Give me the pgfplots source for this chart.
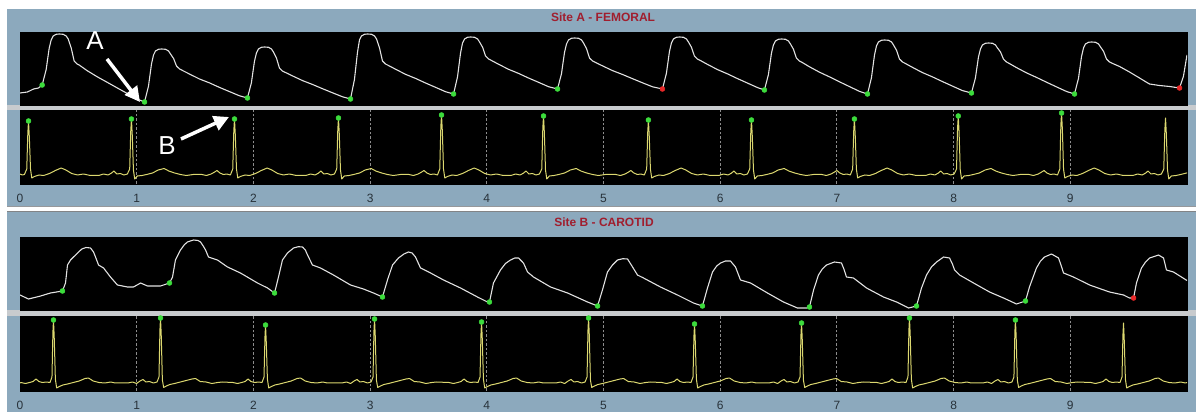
\documentclass[border=0pt]{standalone}
\usepackage{fontspec}
\setmainfont{Liberation Sans}
\usepackage{pgfplots}
\pgfplotsset{compat=1.18}
\usetikzlibrary{arrows.meta}
\definecolor{panelbg}{HTML}{8CA9BD}
\definecolor{sepbar}{HTML}{C8CBCE}
\definecolor{titlered}{HTML}{A01E2E}
\definecolor{ticktext}{HTML}{28323A}
\definecolor{pressline}{HTML}{E2E2E2}
\definecolor{ecgline}{HTML}{DCD870}
\definecolor{dotgreen}{HTML}{3CDC3C}
\definecolor{dotred}{HTML}{E82828}
\definecolor{gridgrey}{HTML}{8C8C8C}
\pgfplotsset{
  panel/.style={scale only axis, width=1167pt, xmin=0, xmax=10000, anchor=south west,
    scaled x ticks=false, scaled y ticks=false,
    axis background/.style={fill=black}, axis line style={draw=black, line width=0.6pt},
    ytick=\empty, ymin=0, clip=true},
  press/.style={panel, xtick=\empty, ymax=73, height=73pt},
  ecg/.style={panel, xtick={0,1000,2000,3000,4000,5000,6000,7000,8000,9000},
    xticklabels={0,1,2,3,4,5,6,7,8,9}, major tick length=0pt,
    xticklabel style={anchor=center, yshift=-14pt, text=ticktext, font=\fontsize{12}{12}\selectfont},
    extra x ticks={1000,2000,3000,4000,5000,6000,7000,8000,9000}, extra x tick labels={},
    extra x tick style={grid=major},
    major grid style={draw=gridgrey, dash pattern=on 2.5pt off 2pt, line width=0.9pt}},
  pline/.style={draw=pressline, line width=1.1pt, mark=none, line join=round},
  eline/.style={draw=ecgline, line width=1.0pt, mark=none, line join=round},
  gdot/.style={only marks, mark=*, mark size=2.5pt, mark options={draw=dotgreen, fill=dotgreen}},
  rdot/.style={only marks, mark=*, mark size=2.5pt, mark options={draw=dotred, fill=dotred}},
}
\begin{document}
\begin{tikzpicture}
\useasboundingbox (0pt,0pt) rectangle (1196pt,412pt);
\fill[white] (0pt,0pt) rectangle (1196pt,412pt);
\fill[panelbg] (7pt,206pt) rectangle (1196pt,403pt);
\fill[panelbg] (7pt,0pt) rectangle (1196pt,200pt);
\fill[black!25!sepbar] (7pt,205pt) rectangle (1196pt,206pt);
\fill[black!35!sepbar] (7pt,200pt) rectangle (1196pt,201pt);
\fill[sepbar] (7pt,302pt) rectangle (1196pt,307pt);
\fill[sepbar] (7pt,96pt) rectangle (1196pt,102pt);

\node[text=titlered, font=\bfseries\fontsize{12}{12}\selectfont] at (603pt,395pt) {Site A - FEMORAL};
\node[text=titlered, font=\bfseries\fontsize{12}{12}\selectfont] at (604pt,190pt) {Site B - CAROTID};

% ---------- Site A pressure ----------
\begin{axis}[press, at={(20pt,307pt)}]
\addplot[pline] coordinates {
(0,12) (64,13) (116,16) (159,17)
(190,20) (224,35.3) (250,56.7) (267,65) (284,69) (310,70.7) (336,71) (370,70.7) (396,69) (413,66) (439,57) (464,44) (490,41) (507,40) (576,34.3) (662,28.2) (747,22.7) (833,17.1) (919,11.5) (1004,6)
(1067,3) (1101,18.9) (1127,41.2) (1144,50) (1161,54) (1187,55.7) (1213,56) (1247,55.7) (1273,54) (1290,51) (1316,46.5) (1341,39) (1367,36) (1384,35) (1452,31) (1538,26) (1624,22.1) (1709,17.6) (1795,13.4) (1881,9.2)
(1949,7) (1983,22.3) (2009,43.7) (2026,52) (2043,56) (2069,57.7) (2095,58) (2129,57.7) (2155,56) (2172,53) (2198,46.8) (2223,37) (2249,34) (2266,33) (2335,29.1) (2421,24.4) (2507,20.5) (2592,16.3) (2678,12.2) (2764,8.2)
(2832,6) (2866,25.5) (2892,52.8) (2909,65) (2926,69) (2952,70.7) (2978,71) (3012,70.7) (3038,69) (3055,66) (3081,57) (3106,44) (3132,41) (3149,40) (3218,35.8) (3303,30.7) (3389,26.6) (3475,22) (3560,17.7) (3646,13.3)
(3715,11) (3749,28.1) (3775,52) (3792,62) (3809,66) (3835,67.7) (3861,68) (3895,67.7) (3921,66) (3938,63) (3964,57.7) (3989,49) (4015,46) (4032,45) (4100,40.8) (4186,35.7) (4272,31.6) (4357,27) (4443,22.7) (4529,18.3)
(4606,16) (4640,31.3) (4666,52.7) (4683,61) (4700,65) (4726,66.7) (4752,67) (4786,66.7) (4812,65) (4829,62) (4855,56.2) (4880,47) (4906,44) (4923,43) (4992,39.1) (5077,34.4) (5163,30.5) (5249,26.3) (5334,22.2) (5420,18.2)
(5505,16) (5539,31.6) (5565,53.4) (5582,62) (5599,66) (5625,67.7) (5651,68) (5685,67.7) (5711,66) (5728,63) (5754,57.7) (5779,49) (5805,46) (5822,45) (5891,40.6) (5977,35.4) (6063,31.1) (6148,26.4) (6234,21.9) (6320,17.4)
(6379,15) (6413,30.3) (6439,51.7) (6456,60) (6473,64) (6499,65.7) (6525,66) (6559,65.7) (6585,64) (6602,61) (6628,55.7) (6653,47) (6679,44) (6696,43) (6765,38.2) (6851,32.8) (6937,28.1) (7022,23.2) (7108,18.4) (7194,13.6)
(7262,11) (7296,27.2) (7322,49.9) (7339,59) (7356,63) (7382,64.7) (7408,65) (7442,64.7) (7468,63) (7485,60) (7511,54.7) (7536,46) (7562,43) (7579,42) (7648,37.6) (7733,32.4) (7819,28.1) (7905,23.4) (7990,18.9) (8076,14.4)
(8153,12) (8187,27) (8213,48) (8230,56) (8247,60) (8273,61.7) (8299,62) (8333,61.7) (8359,60) (8376,57) (8402,53) (8427,46) (8453,43) (8470,42) (8539,37.4) (8625,32.1) (8710,27.6) (8796,22.8) (8882,18.1) (8968,13.5)
(9036,11) (9070,26.6) (9096,48.4) (9113,57) (9130,61) (9156,62.7) (9182,63) (9216,62.7) (9242,61) (9259,58) (9285,53.6) (9310,46) (9336,43) (9353,42) (9422,38.5) (9507,33) (9593,27) (9678,21) (9764,19.5) (9850,18.5)
(9936,17) (9970,29) (10000,50)
};
\addplot[gdot] coordinates {(190,20) (1067,3) (1949,7) (2832,6) (3715,11) (4606,16) (6379,15) (7262,11) (8153,12) (9036,11)};
\addplot[rdot] coordinates {(5505,16) (9936,17)};
\end{axis}

% ---------- Site A ECG ----------
\begin{axis}[ecg, at={(20pt,228pt)}, ymax=74, height=74pt]
\addplot[eline] coordinates {
(0,10) (20,9) (38,9.5) (58,15) (67,51) (73,63) (80,47) (90,15) (101,6) (123,7.5) (163,9) (203,8.5) (253,10.5) (303,13.5) (353,16) (393,14) (443,10.5) (493,9) (543,10) (603,8.5)
(675,8.5) (715,10) (755,9) (785,11) (805,13) (830,10) (860,10.5) (890,9) (920,10) (940,15) (949,53) (955,65) (962,49) (972,14) (983,5) (1005,8) (1045,8.5) (1085,9.5) (1135,11) (1185,14) (1235,15.5) (1275,13) (1325,11) (1375,9.5) (1425,8.5) (1485,9.5)
(1558,9.5) (1598,8.5) (1638,10) (1668,12) (1688,13.5) (1713,11) (1743,9.5) (1773,10) (1803,9) (1823,15) (1832,53) (1838,65) (1845,49) (1855,15) (1866,6) (1888,7.5) (1928,9) (1968,8.5) (2018,10.5) (2068,13.5) (2118,16) (2158,14) (2208,10.5) (2258,9) (2308,10) (2368,8.5)
(2449,8.5) (2489,10) (2529,9) (2559,11) (2579,13) (2604,10) (2634,10.5) (2664,9) (2694,10) (2714,15) (2723,54) (2729,66) (2736,50) (2746,14) (2757,5) (2779,8) (2819,8.5) (2859,9.5) (2909,11) (2959,14) (3009,15.5) (3049,13) (3099,11) (3149,9.5) (3199,8.5) (3259,9.5)
(3332,9.5) (3372,8.5) (3412,10) (3442,12) (3462,13.5) (3487,11) (3517,9.5) (3547,10) (3577,9) (3597,15) (3606,57) (3612,69) (3619,53) (3629,15) (3640,6) (3662,7.5) (3702,9) (3742,8.5) (3792,10.5) (3842,13.5) (3892,16) (3932,14) (3982,10.5) (4032,9) (4082,10) (4142,8.5)
(4206,8.5) (4246,10) (4286,9) (4316,11) (4336,13) (4361,10) (4391,10.5) (4421,9) (4451,10) (4471,15) (4480,56) (4486,68) (4493,52) (4503,14) (4514,5) (4536,8) (4576,8.5) (4616,9.5) (4666,11) (4716,14) (4766,15.5) (4806,13) (4856,11) (4906,9.5) (4956,8.5) (5016,9.5)
(5105,9.5) (5145,8.5) (5185,10) (5215,12) (5235,13.5) (5260,11) (5290,9.5) (5320,10) (5350,9) (5370,15) (5379,52) (5385,64) (5392,48) (5402,15) (5413,6) (5435,7.5) (5475,9) (5515,8.5) (5565,10.5) (5615,13.5) (5665,16) (5705,14) (5755,10.5) (5805,9) (5855,10) (5915,8.5)
(5988,8.5) (6028,10) (6068,9) (6098,11) (6118,13) (6143,10) (6173,10.5) (6203,9) (6233,10) (6253,15) (6262,52) (6268,64) (6275,48) (6285,14) (6296,5) (6318,8) (6358,8.5) (6398,9.5) (6448,11) (6498,14) (6548,15.5) (6588,13) (6638,11) (6688,9.5) (6738,8.5) (6798,9.5)
(6870,9.5) (6910,8.5) (6950,10) (6980,12) (7000,13.5) (7025,11) (7055,9.5) (7085,10) (7115,9) (7135,15) (7144,53) (7150,65) (7157,49) (7167,15) (7178,6) (7200,7.5) (7240,9) (7280,8.5) (7330,10.5) (7380,13.5) (7430,16) (7470,14) (7520,10.5) (7570,9) (7620,10) (7680,8.5)
(7760,8.5) (7800,10) (7840,9) (7870,11) (7890,13) (7915,10) (7945,10.5) (7975,9) (8005,10) (8025,15) (8034,56) (8040,68) (8047,52) (8057,14) (8068,5) (8090,8) (8130,8.5) (8170,9.5) (8220,11) (8270,14) (8320,15.5) (8360,13) (8410,11) (8460,9.5) (8510,8.5) (8570,9.5)
(8645,9.5) (8685,8.5) (8725,10) (8755,12) (8775,13.5) (8800,11) (8830,9.5) (8860,10) (8890,9) (8910,15) (8919,59) (8925,71) (8932,55) (8942,15) (8953,6) (8975,7.5) (9015,9) (9055,8.5) (9105,10.5) (9155,13.5) (9205,16) (9245,14) (9295,10.5) (9345,9) (9395,10) (9455,8.5)
(9536,8.5) (9576,10) (9616,9) (9646,11) (9666,13) (9691,10) (9721,10.5) (9751,9) (9781,10) (9801,15) (9810,54) (9816,66) (9823,50) (9833,14) (9844,5) (9866,8) (9906,8.5) (9946,9.5) (9996,11) (10000,11)
};
\addplot[gdot] coordinates {(73,63) (955,65) (1838,65) (2729,66) (3612,69) (4486,68) (5385,64) (6268,64) (7150,65) (8040,68) (8925,71)};
\end{axis}

% ---------- Site B pressure ----------
\begin{axis}[press, at={(20pt,102pt)}]
\addplot[pline] coordinates {
(0,15) (73,11) (176,14) (261,17)
(364,19) (390,27) (407,45) (433,50) (493,57) (530,61) (565,62.5) (604,62) (630,58) (647,53) (673,45) (716,42) (775,33) (835,25) (921,23) (973,23) (1033,27) (1093,24) (1204,24)
(1281,27) (1307,33) (1332,50) (1375,60) (1410,65.5) (1435,68) (1487,70) (1525,69.5) (1547,68) (1570,64) (1590,60) (1615,53) (1692,50) (1778,43) (1889,37) (2035,27) (2121,22)
(2181,17) (2215,33) (2249,50) (2292,57) (2344,62) (2385,63.3) (2421,63) (2445,60) (2464,55) (2506,45) (2575,42) (2686,35) (2832,25) (2943,21) (3029,17)
(3106,13) (3149,30) (3192,45) (3243,52) (3290,56) (3329,58) (3360,57) (3389,53) (3432,42) (3518,37) (3629,30) (3775,22) (3920,13) (4006,8)
(4023,8) (4057,27) (4117,40) (4160,46.5) (4203,50) (4240,52) (4272,52) (4314,47) (4349,38) (4400,33) (4546,23) (4692,17) (4863,8)
(4949,4) (4991,20) (5034,38) (5077,45) (5120,50) (5165,51.3) (5206,51) (5249,43) (5291,35) (5343,32) (5488,23) (5634,15) (5771,7)
(5848,4) (5891,22) (5934,38) (5970,44) (6003,47) (6045,49) (6088,49) (6131,43) (6174,30) (6260,27) (6405,17) (6542,8) (6662,2) (6740,2)
(6765,3) (6800,20) (6842,35) (6875,41) (6911,45) (6979,48) (7039,47) (7060,41) (7082,33) (7142,32) (7254,22) (7399,13) (7511,8) (7614,2)
(7682,4) (7725,22) (7768,35) (7810,43) (7854,48) (7914,53) (7965,52) (7990,46) (8008,40) (8051,35) (8171,27) (8308,18) (8428,12) (8539,6)
(8616,9) (8650,23) (8710,42) (8745,49) (8779,53) (8839,56) (8899,52) (8920,45) (8942,37) (9027,33) (9165,25) (9336,18) (9456,15) (9507,12)
(9542,12) (9567,27) (9610,42) (9645,48) (9679,52) (9756,55) (9799,52) (9824,40) (9884,38) (10000,29.5)
};
\addplot[gdot] coordinates {(364,19) (1281,27) (2181,17) (3106,13) (4023,8) (4949,4) (5848,4) (6765,3) (7682,4) (8616,9)};
\addplot[rdot] coordinates {(9542,12)};
\end{axis}

% ---------- Site B ECG ----------
\begin{axis}[ecg, at={(20pt,21pt)}, ymax=75, height=75pt]
\addplot[eline] coordinates {
(0,8) (7,8.5) (47,7.5) (82,8.5) (112,9.5) (137,12) (162,9.5) (192,8.5) (227,9) (257,8.5) (274,14) (282,59) (287,71) (293,55) (303,12) (314,3) (337,4.5) (367,6) (407,7) (457,8.5) (507,10) (557,12.5) (587,13) (627,10) (677,8.5) (727,8) (777,9) (817,8)
(924,8) (964,9) (999,7.5) (1029,10) (1054,11.5) (1079,9) (1109,9.5) (1144,8) (1174,9) (1191,14) (1199,61) (1204,73) (1210,57) (1220,11) (1231,3.5) (1254,5) (1284,6.5) (1324,7.5) (1374,9) (1424,10.5) (1474,12) (1504,12.5) (1544,9.5) (1594,9) (1644,7.5) (1694,8.5) (1734,9)
(1824,8.5) (1864,7.5) (1899,8.5) (1929,9.5) (1954,12) (1979,9.5) (2009,8.5) (2044,9) (2074,8.5) (2091,14) (2099,54) (2104,66) (2110,50) (2120,12) (2131,3) (2154,4.5) (2184,6) (2224,7) (2274,8.5) (2324,10) (2374,12.5) (2404,13) (2444,10) (2494,8.5) (2544,8) (2594,9) (2634,8)
(2758,8) (2798,9) (2833,7.5) (2863,10) (2888,11.5) (2913,9) (2943,9.5) (2978,8) (3008,9) (3025,14) (3033,60) (3038,72) (3044,56) (3054,11) (3065,3.5) (3088,5) (3118,6.5) (3158,7.5) (3208,9) (3258,10.5) (3308,12) (3338,12.5) (3378,9.5) (3428,9) (3478,7.5) (3528,8.5) (3568,9)
(3675,8.5) (3715,7.5) (3750,8.5) (3780,9.5) (3805,12) (3830,9.5) (3860,8.5) (3895,9) (3925,8.5) (3942,14) (3950,57) (3955,69) (3961,53) (3971,12) (3982,3) (4005,4.5) (4035,6) (4075,7) (4125,8.5) (4175,10) (4225,12.5) (4255,13) (4295,10) (4345,8.5) (4395,8) (4445,9) (4485,8)
(4592,8) (4632,9) (4667,7.5) (4697,10) (4722,11.5) (4747,9) (4777,9.5) (4812,8) (4842,9) (4859,14) (4867,61) (4872,73) (4878,57) (4888,11) (4899,3.5) (4922,5) (4952,6.5) (4992,7.5) (5042,9) (5092,10.5) (5142,12) (5172,12.5) (5212,9.5) (5262,9) (5312,7.5) (5362,8.5) (5402,9)
(5500,8.5) (5540,7.5) (5575,8.5) (5605,9.5) (5630,12) (5655,9.5) (5685,8.5) (5720,9) (5750,8.5) (5767,14) (5775,55) (5780,67) (5786,51) (5796,12) (5807,3) (5830,4.5) (5860,6) (5900,7) (5950,8.5) (6000,10) (6050,12.5) (6080,13) (6120,10) (6170,8.5) (6220,8) (6270,9) (6310,8)
(6417,8) (6457,9) (6492,7.5) (6522,10) (6547,11.5) (6572,9) (6602,9.5) (6637,8) (6667,9) (6684,14) (6692,56) (6697,68) (6703,52) (6713,11) (6724,3.5) (6747,5) (6777,6.5) (6817,7.5) (6867,9) (6917,10.5) (6967,12) (6997,12.5) (7037,9.5) (7087,9) (7137,7.5) (7187,8.5) (7227,9)
(7342,8.5) (7382,7.5) (7417,8.5) (7447,9.5) (7472,12) (7497,9.5) (7527,8.5) (7562,9) (7592,8.5) (7609,14) (7617,61) (7622,73) (7628,57) (7638,12) (7649,3) (7672,4.5) (7702,6) (7742,7) (7792,8.5) (7842,10) (7892,12.5) (7922,13) (7962,10) (8012,8.5) (8062,8) (8112,9) (8152,8)
(8250,8) (8290,9) (8325,7.5) (8355,10) (8380,11.5) (8405,9) (8435,9.5) (8470,8) (8500,9) (8517,14) (8525,59) (8530,71) (8536,55) (8546,11) (8557,3.5) (8580,5) (8610,6.5) (8650,7.5) (8700,9) (8750,10.5) (8800,12) (8830,12.5) (8870,9.5) (8920,9) (8970,7.5) (9020,8.5) (9060,9)
(9176,8.5) (9216,7.5) (9251,8.5) (9281,9.5) (9306,12) (9331,9.5) (9361,8.5) (9396,9) (9426,8.5) (9443,14) (9451,56) (9456,68) (9462,52) (9472,12) (9483,3) (9506,4.5) (9536,6) (9576,7) (9626,8.5) (9676,10) (9726,12.5) (9756,13) (9796,10) (9846,8.5) (9896,8) (9946,9) (9986,8) (10000,8.5)
};
\addplot[gdot] coordinates {(287,71) (1204,73) (2104,66) (3038,72) (3955,69) (4872,73) (5780,67) (6697,68) (7622,73) (8530,71)};
\end{axis}

% ---------- annotations ----------
\node[text=white, font=\fontsize{26}{26}\selectfont] at (95pt,371pt) {A};
\draw[white, line width=3.5pt, -{Triangle[length=15pt,width=15pt]}] (107pt,353pt) -- (140pt,310pt);
\node[text=white, font=\fontsize{26}{26}\selectfont] at (167pt,266pt) {B};
\draw[white, line width=3.5pt, -{Triangle[length=15pt,width=15pt]}] (181pt,273pt) -- (229pt,295pt);
\end{tikzpicture}
\end{document}
